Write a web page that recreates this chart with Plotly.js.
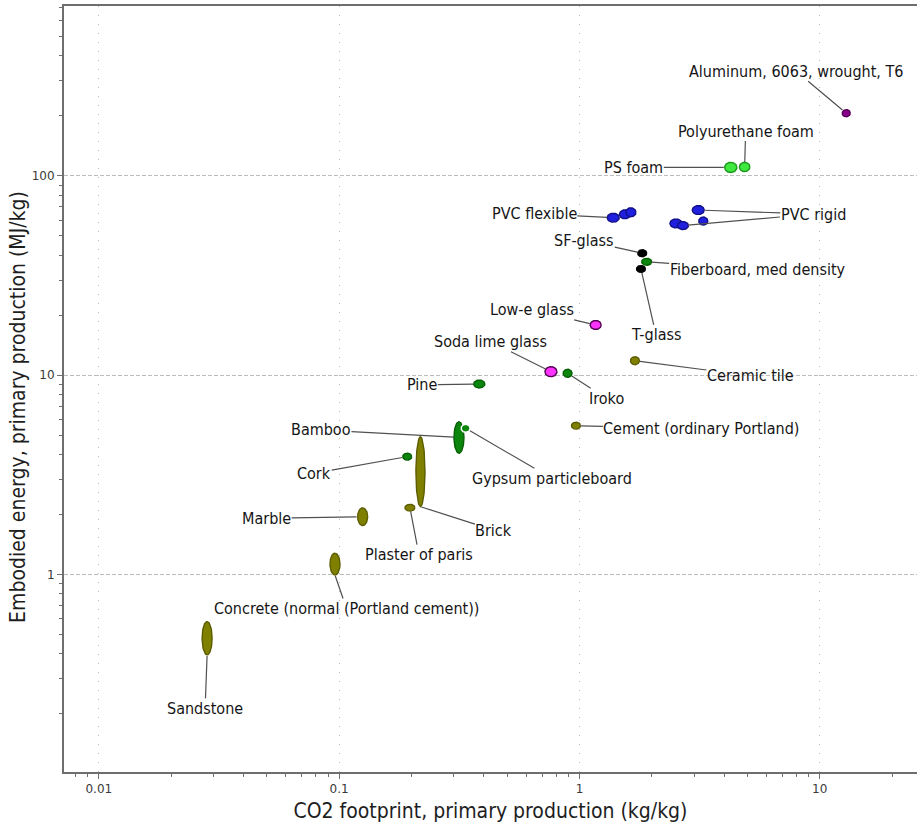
<!DOCTYPE html>
<html>
<head>
<meta charset="utf-8">
<script src="https://cdn.plot.ly/plotly-3.0.1.min.js"></script>
<style>
  html, body { margin: 0; padding: 0; background: #ffffff; }
  #chart { width: 917px; height: 827px; }
</style>
</head>
<body>
<div id="chart"></div>
<script>
// ---- Material records: CO2 footprint (kg/kg) and embodied energy (MJ/kg) ranges ----
const recordNames = [
  "Sandstone", "Concrete (normal (Portland cement))", "Marble", "Plaster of paris", "Brick",
  "Cork", "Bamboo", "Gypsum particleboard", "Cement (ordinary Portland)", "Pine",
  "Soda lime glass", "Iroko", "Ceramic tile", "Low-e glass", "T-glass", "SF-glass",
  "Fiberboard, med density", "PVC flexible", "PVC flexible", "PVC flexible",
  "PVC rigid", "PVC rigid", "PVC rigid", "PVC rigid",
  "PS foam", "Polyurethane foam", "Aluminum, 6063, wrought, T6"
];
const co2Low = [
  0.0269, 0.0916, 0.1194, 0.1878, 0.2087,
  0.1839, 0.3004, 0.3219, 0.926, 0.363,
  0.7185, 0.855, 1.630, 1.108, 1.727, 1.748,
  1.815, 1.305, 1.467, 1.561,
  2.947, 2.380, 2.557, 3.136,
  4.02, 4.63, 12.4
];
const co2High = [
  0.0296, 0.1008, 0.1314, 0.2067, 0.2276,
  0.2005, 0.3307, 0.3508, 1.010, 0.404,
  0.806, 0.932, 1.777, 1.231, 1.883, 1.906,
  1.998, 1.464, 1.630, 1.718,
  3.306, 2.670, 2.842, 3.420,
  4.52, 5.12, 13.4
];
const energyLow = [
  0.395, 0.994, 1.76, 2.08, 2.19,
  3.75, 4.06, 5.17, 5.36, 8.63,
  9.83, 9.76, 11.29, 16.96, 32.8, 39.3,
  35.6, 58.6, 60.9, 62.3,
  64.0, 54.8, 53.8, 56.7,
  104, 105, 198
];
const energyHigh = [
  0.580, 1.28, 2.16, 2.25, 4.91,
  4.06, 5.84, 5.67, 5.81, 9.46,
  11.03, 10.71, 12.38, 18.82, 35.5, 42.6,
  38.6, 65.0, 67.6, 69.2,
  71.0, 60.8, 59.0, 62.2,
  117, 117, 215
];
const recordFamily = [
  "Ceramics", "Ceramics", "Ceramics", "Ceramics", "Ceramics",
  "Natural", "Natural", "Boards", "Ceramics", "Natural",
  "Soda glass", "Natural", "Ceramics", "Soda glass", "Technical glass", "Technical glass",
  "Natural", "Polymers", "Polymers", "Polymers",
  "Polymers", "Polymers", "Polymers", "Polymers",
  "Foams", "Foams", "Metals"
];

// ---- Labels: text and the record each leader line points at ----
const labelText = [
  "Aluminum, 6063, wrought, T6", "Polyurethane foam", "PS foam", "PVC flexible",
  "PVC rigid", "PVC rigid", "SF-glass", "Fiberboard, med density", "T-glass",
  "Low-e glass", "Soda lime glass", "Iroko", "Pine", "Ceramic tile",
  "Cement (ordinary Portland)", "Bamboo", "Gypsum particleboard", "Cork", "Brick",
  "Plaster of paris", "Marble", "Concrete (normal (Portland cement))", "Sandstone"
];
const labelRecord = [
  26, 25, 24, 17,
  20, 22, 15, 16, 14,
  13, 10, 11, 9, 12,
  8, 6, 7, 5, 4,
  3, 2, 1, 0
];

// ---- Axis ticks and titles ----
const xTickVals = [0.01, 0.1, 1, 10];
const xTickText = ["0.01", "0.1", "1", "10"];
const yTickVals = [1, 10, 100];
const yTickText = ["1", "10", "100"];
const xTitle = "CO2 footprint, primary production (kg/kg)";
const yTitle = "Embodied energy, primary production (MJ/kg)";

// ---- Styling ----
const familyStyle = {
  "Ceramics":        { fill: "#808000", edge: "#5c5c00" },
  "Natural":         { fill: "#0b850b", edge: "#066006" },
  "Boards":          { fill: "#0b850b", edge: "#ffffff" },
  "Soda glass":      { fill: "#ff33ff", edge: "#520052" },
  "Technical glass": { fill: "#000000", edge: "#000000" },
  "Polymers":        { fill: "#1f1fdd", edge: "#10108a" },
  "Foams":           { fill: "#3fe83f", edge: "#1a961a" },
  "Metals":          { fill: "#880088", edge: "#5a005a" }
};

// Leader placement: pixel offset of the label from its target, gap at the target,
// and whether the leader meets the bubble centre or its lower end.
const labelPlacement = [
  { ax: -50, ay: -42, standoff: 5, end: "centre" },
  { ax: 1, ay: -36, standoff: 5, end: "centre" },
  { ax: -97, ay: 0, standoff: 7, end: "centre" },
  { ax: -79, ay: -4, standoff: 6, end: "centre" },
  { ax: 115, ay: 4, standoff: 6, end: "centre" },
  { ax: 130, ay: -11.5, standoff: 5, end: "centre", ghost: true },
  { ax: -58, ay: -13, standoff: 5, end: "centre" },
  { ax: 111, ay: 8, standoff: 5, end: "centre" },
  { ax: 15, ay: 66, standoff: 4, end: "centre" },
  { ax: -64, ay: -15, standoff: 6, end: "centre" },
  { ax: -60, ay: -30, standoff: 6, end: "centre" },
  { ax: 38.5, ay: 25, standoff: 5, end: "centre" },
  { ax: -57, ay: 1, standoff: 6, end: "centre" },
  { ax: 115.5, ay: 15, standoff: 5, end: "centre" },
  { ax: 125.5, ay: 3, standoff: 5, end: "centre" },
  { ax: -138, ay: -7.5, standoff: 5, end: "centre" },
  { ax: 86, ay: 50, standoff: 5, end: "centre" },
  { ax: -93, ay: 16.5, standoff: 5, end: "centre" },
  { ax: 73.5, ay: 23.5, standoff: 1, end: "low" },
  { ax: 9, ay: 47, standoff: 4, end: "centre" },
  { ax: -96, ay: 1.5, standoff: 6, end: "centre" },
  { ax: 11.5, ay: 33.5, standoff: 1, end: "low" },
  { ax: -2, ay: 53.5, standoff: 1, end: "low" }
];

const labelFont = { family: "DejaVu Sans Condensed, DejaVu Sans, sans-serif", size: 16, color: "#151515" };
const titleFont = { family: "DejaVu Sans Condensed, DejaVu Sans, sans-serif", size: 21, color: "#1e1e1e" };
const tickFont = { family: "DejaVu Sans, sans-serif", size: 12, color: "#3a3a3a" };

const lg = Math.log10;

// Minor tick positions at 2..9 of every decade in view
function minorTicks(fromExp, toExp) {
  const out = [];
  for (let e = fromExp; e <= toExp; e++) {
    for (let m = 2; m <= 9; m++) out.push(m * Math.pow(10, e));
  }
  return out;
}

// Each record is drawn as an ellipse spanning its ranges on the log-log axes
const traces = recordNames.map((name, i) => {
  const cx = (lg(co2Low[i]) + lg(co2High[i])) / 2;
  const rx = (lg(co2High[i]) - lg(co2Low[i])) / 2;
  const cy = (lg(energyLow[i]) + lg(energyHigh[i])) / 2;
  const ry = (lg(energyHigh[i]) - lg(energyLow[i])) / 2;
  const xs = [], ys = [];
  const n = 72;
  for (let k = 0; k <= n; k++) {
    const t = 2 * Math.PI * k / n;
    xs.push(Math.pow(10, cx + rx * Math.cos(t)));
    ys.push(Math.pow(10, cy + ry * Math.sin(t)));
  }
  const st = familyStyle[recordFamily[i]];
  return {
    type: "scatter", mode: "lines", x: xs, y: ys,
    fill: "toself", fillcolor: st.fill,
    line: { color: st.edge, width: 1.4 },
    name: name, hoveron: "fills", hoverinfo: "name",
    showlegend: false
  };
});

const annotations = labelText.map((txt, j) => {
  const i = labelRecord[j];
  const p = labelPlacement[j];
  const x = (lg(co2Low[i]) + lg(co2High[i])) / 2;
  const y = p.end === "low" ? lg(energyLow[i]) : (lg(energyLow[i]) + lg(energyHigh[i])) / 2;
  return {
    x: x, y: y, xref: "x", yref: "y",
    text: txt,
    showarrow: true, arrowhead: 0, arrowwidth: 1.2, arrowcolor: "#505050",
    ax: p.ax, ay: p.ay, standoff: p.standoff,
    font: p.ghost ? Object.assign({}, labelFont, { color: "rgba(0,0,0,0)" }) : labelFont,
    borderpad: 0
  };
});

// no-break spaces (kept from trimming by a zero-width space) move the rotated
// y title a little further down its axis
const yTitlePad = "\u00a0\u00a0\u00a0\u00a0\u00a0\u00a0\u200b";

const layout = {
  width: 917, height: 827,
  margin: { l: 64, r: 0, t: 6, b: 55 },
  paper_bgcolor: "#ffffff", plot_bgcolor: "#ffffff",
  showlegend: false,
  hovermode: "closest",
  xaxis: {
    type: "log", range: [-2.145, 1.4047],
    tickmode: "array", tickvals: xTickVals, ticktext: xTickText,
    ticks: "outside", ticklen: 5, tickwidth: 1, tickcolor: "#6e6e6e",
    tickfont: tickFont,
    showline: true, linecolor: "#6e6e6e", linewidth: 2, mirror: true,
    showgrid: true, gridcolor: "#bdbdbd", gridwidth: 1, griddash: "1px,8px",
    zeroline: false,
    minor: { tickmode: "array", tickvals: minorTicks(-3, 1), ticks: "outside", ticklen: 3, tickcolor: "#6e6e6e", showgrid: false },
    title: { text: xTitle, font: titleFont, standoff: 8 }
  },
  yaxis: {
    type: "log", range: [-0.991, 2.8525],
    tickmode: "array", tickvals: yTickVals, ticktext: yTickText,
    ticks: "outside", ticklen: 5, tickwidth: 1, tickcolor: "#6e6e6e",
    tickfont: tickFont,
    showline: true, linecolor: "#6e6e6e", linewidth: 2, mirror: false,
    showgrid: true, gridcolor: "#bdbdbd", gridwidth: 1, griddash: "4px,2px",
    zeroline: false,
    minor: { tickmode: "array", tickvals: minorTicks(-1, 2), ticks: "outside", ticklen: 3, tickcolor: "#6e6e6e", showgrid: false },
    title: { text: yTitle + yTitlePad, font: titleFont, standoff: 0 }
  },
  annotations: annotations
};

Plotly.newPlot("chart", traces, layout, { displayModeBar: false });
</script>
</body>
</html>
